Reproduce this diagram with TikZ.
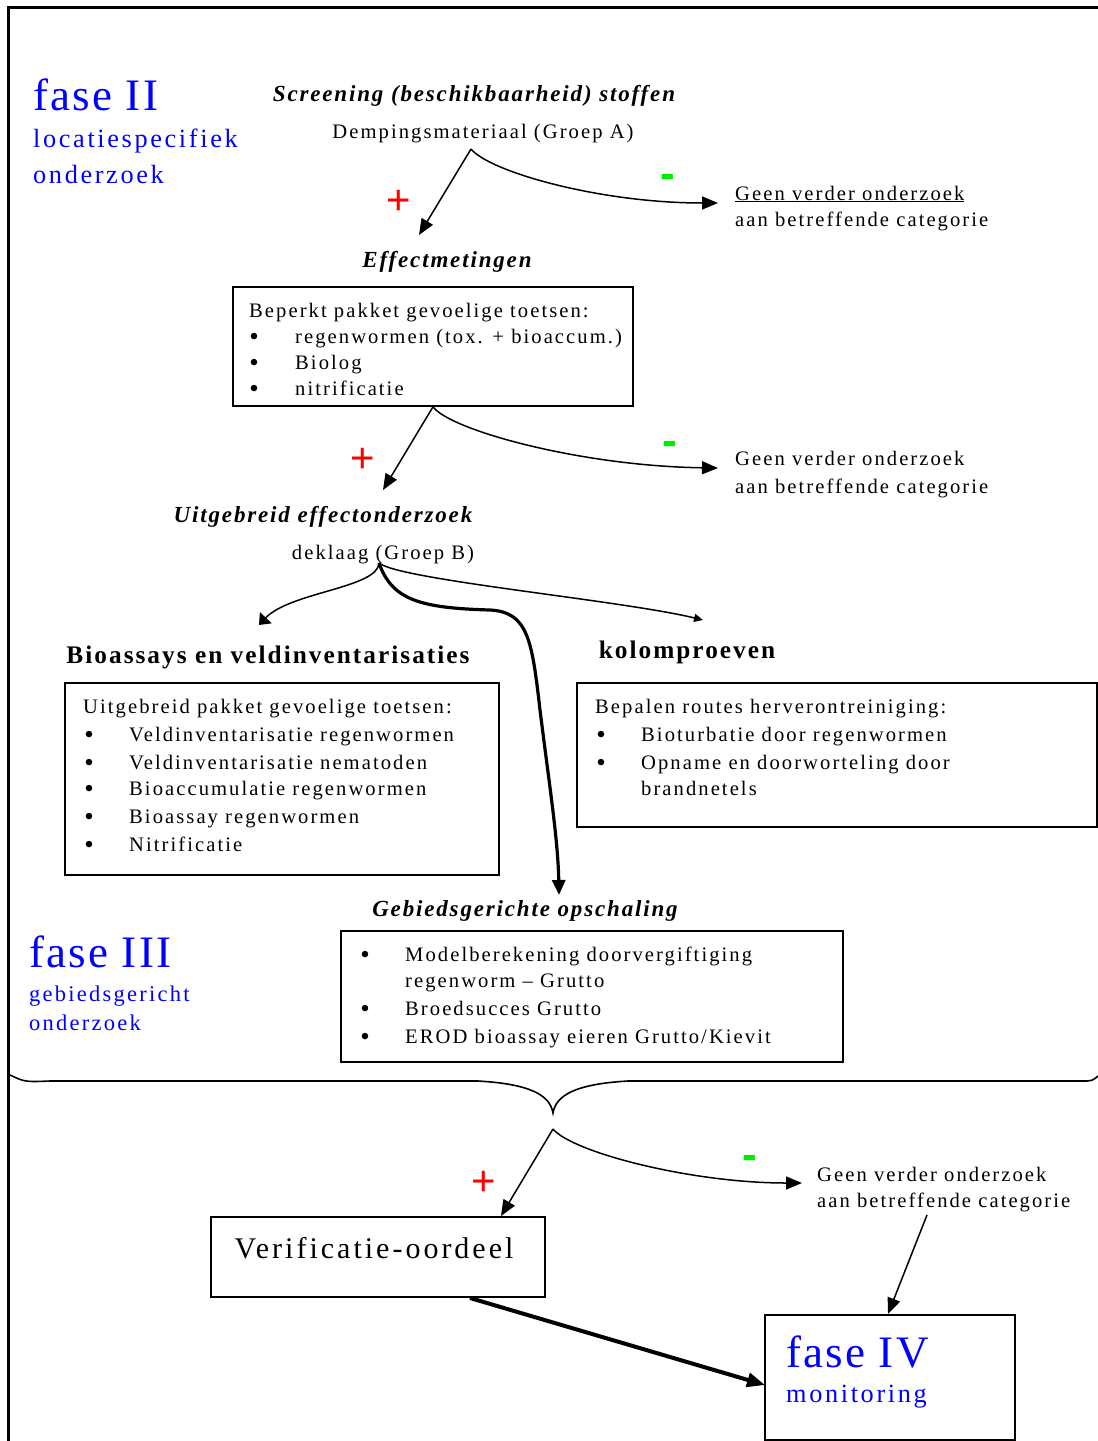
\documentclass[tikz,border=0pt]{standalone}
\usepackage{fontspec}
\setmainfont{Liberation Serif}
\newfontfamily\bodyf{Liberation Serif}[LetterSpace=10]
\newfontfamily\headf{Liberation Serif}[LetterSpace=8]
\newfontfamily\fasef{Liberation Serif}[LetterSpace=5]
\newfontfamily\subf{Liberation Serif}[LetterSpace=10]
\newfontfamily\signf{Liberation Sans}
\usetikzlibrary{arrows.meta}
\definecolor{fblue}{RGB}{0,0,255}
\definecolor{fred}{RGB}{255,0,0}
\definecolor{fgreen}{RGB}{0,235,0}
\tikzset{
 txt/.style={inner sep=0pt, font=\bodyf\fontsize{20.6}{24}\selectfont},
 lt/.style={txt, anchor=base west},
 ct/.style={txt, anchor=base},
 bul/.style={inner sep=0pt, anchor=base, font=\fontsize{27}{30}\selectfont},
 head/.style={inner sep=0pt, anchor=base, font=\headf\fontsize{23}{26}\selectfont\bfseries\itshape},
 bhead/.style={inner sep=0pt, anchor=base, font=\headf\fontsize{25.3}{28}\selectfont\bfseries},
 boxst/.style={draw, line width=1.6pt, inner sep=0pt},
 conn/.style={line width=1.5pt, -{Triangle[length=16pt,width=13pt]}},
 plus/.style={text=fred, font=\signf\fontsize{42}{44}\selectfont, inner sep=0pt},
 minus/.style={text=fgreen, font=\signf\fontsize{44}{44}\selectfont\bfseries, inner sep=0pt},
 fbig/.style={text=fblue, anchor=base west, inner sep=0pt, font=\fasef\fontsize{45}{48}\selectfont},
 fsubA/.style={text=fblue, anchor=base west, inner sep=0pt, font=\subf\fontsize{26.3}{30}\selectfont},
 fsubB/.style={text=fblue, anchor=base west, inner sep=0pt, font=\subf\fontsize{22.5}{26}\selectfont},
}
\begin{document}
\begin{tikzpicture}[x=1pt,y=-1pt]
\useasboundingbox (0,0) rectangle (1098,1441);
% outer frame
\draw[line width=3pt] (8,1441) -- (8,7) -- (1098,7);

% ---------- fase II ----------
\node[fbig] (f2) at (33,110) {fase II};
\node[fsubA] (f2a) at (33,147) {locatiespecifiek};
\node[fsubA] (f2b) at (33,183) {onderzoek};

\node[head] (scr) at (474,101) {Screening (beschikbaarheid) stoffen};
\node[ct] (demp) at (483,138) {Dempingsmateriaal (Groep A)};
\coordinate (a1) at (471,149);
\coordinate (a1l) at (419,235);
\coordinate (a1r) at (718,203);
\draw[conn] (a1) -- (a1l);
\draw[conn] (a1) .. controls (490,172) and (600,203) .. (a1r);
\node[plus] (p1) at (399,202) {+};
\node[minus] (m1) at (668,181) {-};
\node[lt] (g1a) at (735,200) {\underline{Geen verder onderzoek}};
\node[lt] (g1b) at (735,226) {aan betreffende categorie};

\node[head] (eff) at (447,267) {Effectmetingen};
\node[boxst, minimum width=400pt, minimum height=119pt] (b1) at (433,346.5) {};
\node[lt] (b1t) at (249,317) {Beperkt pakket gevoelige toetsen:};
\node[bul] (b1u1) at (254,345) {•};
\node[lt] (b1l1) at (295,343) {regenwormen (tox. + bioaccum.)};
\node[bul] (b1u2) at (254,371) {•};
\node[lt] (b1l2) at (295,369) {Biolog};
\node[bul] (b1u3) at (254,397) {•};
\node[lt] (b1l3) at (295,395) {nitrificatie};

\coordinate (a2l) at (383,490);
\coordinate (a2r) at (718,468);
\draw[conn] (b1.south) -- (a2l);
\draw[conn] (b1.south) .. controls (450,430) and (580,466) .. (a2r);
\node[plus] (p2) at (363,460) {+};
\node[minus] (m2) at (670,448) {-};
\node[lt] (g2a) at (735,465) {Geen verder onderzoek};
\node[lt] (g2b) at (735,493) {aan betreffende categorie};

\node[head] (uit) at (323,522) {Uitgebreid effectonderzoek};
\node[ct] (dek) at (383,559) {deklaag (Groep B)};
\coordinate (a3) at (379,563);
\coordinate (a3l) at (259,625);
\coordinate (a3d) at (559,895);
\coordinate (a3r) at (703,620);
\draw[line width=1.5pt, -{Triangle[length=10pt,width=16pt]}] (a3) .. controls (378,588) and (290,592) .. (a3l);
\draw[line width=3.2pt, -{Triangle[length=15pt,width=13pt]}] (a3) .. controls (392,600) and (420,608) .. (490,610) .. controls (528,612) and (532,640) .. (540,710) .. controls (550,790) and (558,840) .. (a3d);
\draw[line width=1.5pt, -{Triangle[length=9pt,width=8pt]}] (a3) .. controls (400,580) and (620,600) .. (a3r);

\node[bhead] (bio) at (268,663) {Bioassays en veldinventarisaties};
\node[bhead] (kol) at (687,658) {kolomproeven};

\node[boxst, minimum width=434pt, minimum height=192pt] (b2) at (282,779) {};
\node[lt] (b2t) at (83,713) {Uitgebreid pakket gevoelige toetsen:};
\node[bul] (b2u1) at (89,743) {•};
\node[lt] (b2l1) at (129,741) {Veldinventarisatie regenwormen};
\node[bul] (b2u2) at (89,771) {•};
\node[lt] (b2l2) at (129,769) {Veldinventarisatie nematoden};
\node[bul] (b2u3) at (89,797) {•};
\node[lt] (b2l3) at (129,795) {Bioaccumulatie regenwormen};
\node[bul] (b2u4) at (89,825) {•};
\node[lt] (b2l4) at (129,823) {Bioassay regenwormen};
\node[bul] (b2u5) at (89,853) {•};
\node[lt] (b2l5) at (129,851) {Nitrificatie};

\node[boxst, minimum width=520pt, minimum height=144pt] (b3) at (837,755) {};
\node[lt] (b3t) at (595,713) {Bepalen routes herverontreiniging:};
\node[bul] (b3u1) at (601,743) {•};
\node[lt] (b3l1) at (641,741) {Bioturbatie door regenwormen};
\node[bul] (b3u2) at (601,771) {•};
\node[lt] (b3l2) at (641,769) {Opname en doorworteling door};
\node[lt] (b3l3) at (641,795) {brandnetels};

% ---------- fase III ----------
\node[head] (geb) at (525,916) {Gebiedsgerichte opschaling};
\node[fbig] (f3) at (29,967) {fase III};
\node[fsubB] (f3a) at (29,1001) {gebiedsgericht};
\node[fsubB] (f3b) at (29,1030) {onderzoek};

\node[boxst, minimum width=502pt, minimum height=131pt] (b4) at (592,996.5) {};
\node[bul] (b4u1) at (365,963) {•};
\node[lt] (b4l1) at (405,961) {Modelberekening doorvergiftiging};
\node[lt] (b4l2) at (405,987) {regenworm – Grutto};
\node[bul] (b4u3) at (365,1017) {•};
\node[lt] (b4l3) at (405,1015) {Broedsucces Grutto};
\node[bul] (b4u4) at (365,1045) {•};
\node[lt] (b4l4) at (405,1043) {EROD bioassay eieren Grutto/Kievit};

% brace
\draw[line width=1.6pt] (10,1075) .. controls (25,1082) .. (50,1081) -- (478,1081)
  .. controls (530,1084) and (550,1095) .. (553,1113)
  .. controls (556,1095) and (576,1084) .. (628,1081) -- (1082,1081)
  .. controls (1092,1081) .. (1098,1076);

% ---------- verification ----------
\node[boxst, minimum width=334pt, minimum height=80pt] (b5) at (378,1257) {};
\node[inner sep=0pt, anchor=base, font=\bodyf\fontsize{30}{34}\selectfont] (ver) at (374,1258) {Verificatie-oordeel};
\node[boxst, minimum width=250pt, minimum height=125pt] (b6) at (890,1377.5) {};
\node[fbig] (f4) at (786,1367) {fase IV};
\node[fsubA] (f4a) at (786,1402) {monitoring};

\coordinate (a4) at (553,1129);
\coordinate (a4l) at (501,1216);
\coordinate (a4r) at (802,1183);
\draw[conn] (a4) -- (a4l);
\draw[conn] (a4) .. controls (572,1152) and (690,1183) .. (a4r);
\node[plus] (p4) at (484,1183) {+};
\node[minus] (m4) at (750,1162) {-};
\node[lt] (g4a) at (817,1181) {Geen verder onderzoek};
\node[lt] (g4b) at (817,1207) {aan betreffende categorie};

\coordinate (g4s) at (927,1215);
\coordinate (b6t) at (888,1314);
\draw[conn] (g4s) -- (b6t);
\coordinate (v1) at (470,1298);
\coordinate (v2) at (765,1385);
\draw[line width=4pt, -{Triangle[length=18pt,width=14pt]}] (v1) -- (v2);
\end{tikzpicture}
\end{document}
